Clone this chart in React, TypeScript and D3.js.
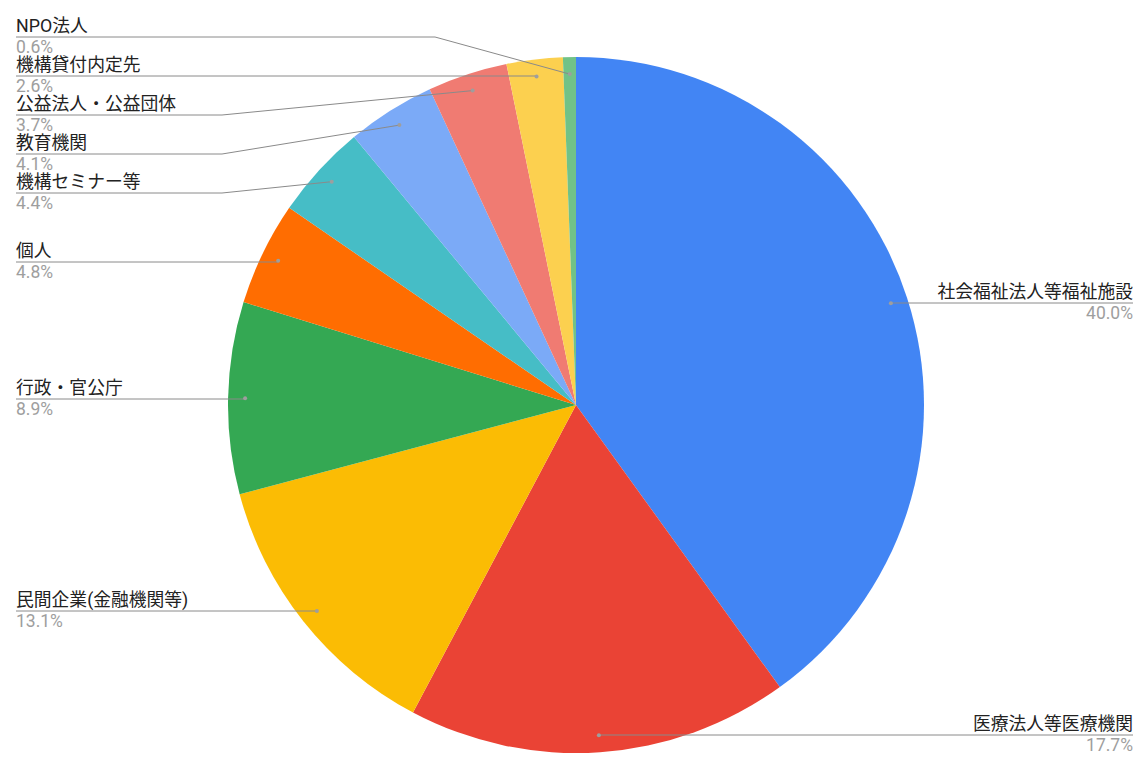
import React from "react";
import * as d3 from "d3";

const categories = [
  "社会福祉法人等福祉施設",
  "医療法人等医療機関",
  "民間企業(金融機関等)",
  "行政・官公庁",
  "個人",
  "機構セミナー等",
  "教育機関",
  "公益法人・公益団体",
  "機構貸付内定先",
  "NPO法人",
];
const values = [40.0, 17.7, 13.1, 8.9, 4.8, 4.4, 4.1, 3.7, 2.6, 0.6];
const percentLabels = ["40.0%", "17.7%", "13.1%", "8.9%", "4.8%", "4.4%", "4.1%", "3.7%", "2.6%", "0.6%"];
const colors = ["#4285F4", "#EA4335", "#FBBC04", "#34A853", "#FF6D01", "#46BDC6", "#7BAAF7", "#F07B72", "#FCD04F", "#71C287"];

// layout (not data)
const W = 1147;
const H = 775;
const CX = 576;
const CY = 405;
const R = 348;
const labelSide = ["right", "right", "left", "left", "left", "left", "left", "left", "left", "left"];
const labelLineY = [303, 735, 611, 399, 262, 193, 154, 115, 76, 37];
const bendX: (number | null)[] = [null, null, null, null, null, 222, 222, 222, null, 435];
const LEFT_X = 16;
const RIGHT_X = 1133;
const FONT = "Roboto, 'Noto Sans CJK JP', 'Noto Sans', sans-serif";

export default function App() {
  const pie = d3.pie<number>().sort(null).value((d) => d);
  const arcs = pie(values);
  const arc = d3.arc<d3.PieArcDatum<number>>().innerRadius(0).outerRadius(R);
  const dotArc = d3.arc<d3.PieArcDatum<number>>().innerRadius(R * 0.951).outerRadius(R * 0.951);

  return (
    <svg
      width={W}
      height={H}
      style={{ position: "absolute", left: 0, top: 0, background: "#fff" }}
      fontFamily={FONT}
    >
      <g transform={`translate(${CX},${CY})`}>
        {arcs.map((a, i) => (
          <path key={i} d={arc(a) || ""} fill={colors[i]} />
        ))}
      </g>
      {arcs.map((a, i) => {
        const [dx, dy] = dotArc.centroid(a);
        const px = CX + dx;
        const py = CY + dy;
        const ly = labelLineY[i];
        const right = labelSide[i] === "right";
        const endX = right ? RIGHT_X : LEFT_X;
        const bx = bendX[i] == null ? px : (bendX[i] as number);
        const pts = [
          [px, py],
          [bx, ly],
          [endX, ly],
        ];
        const line = d3.line()(pts as [number, number][]) || "";
        return (
          <g key={i}>
            <path d={line} fill="none" stroke="#8a8a8a" strokeWidth={1} />
            <circle cx={px} cy={py} r={2} fill="#9e9e9e" />
            <text
              x={endX}
              y={ly - 5}
              textAnchor={right ? "end" : "start"}
              fontSize={17.8}
              fill="#222222"
            >
              {categories[i]}
            </text>
            <text
              x={endX}
              y={ly + 16}
              textAnchor={right ? "end" : "start"}
              fontSize={17.5}
              fill="#9e9e9e"
            >
              {percentLabels[i]}
            </text>
          </g>
        );
      })}
    </svg>
  );
}
